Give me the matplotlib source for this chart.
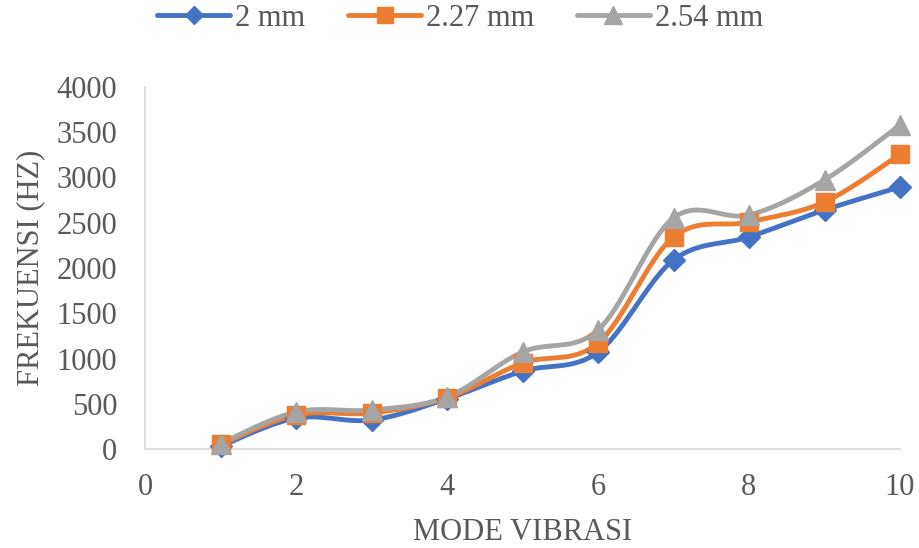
import numpy as np
import matplotlib
matplotlib.use("Agg")
import matplotlib.pyplot as plt
from matplotlib.lines import Line2D

modes = [1, 2, 3, 4, 5, 6, 7, 8, 9, 10]
freq_2mm = [30, 342, 320, 555, 860, 1070, 2088, 2343, 2641, 2895]
freq_227mm = [50, 376, 398, 565, 950, 1171, 2343, 2508, 2729, 3255]
freq_254mm = [60, 409, 431, 575, 1072, 1315, 2553, 2586, 2973, 3580]
labels = ["2 mm", "2.27 mm", "2.54 mm"]
colors = ["#4472C4", "#ED7D31", "#A5A5A5"]
markers = ["D", "s", "^"]
msizes = [11, 13, 15]


def smooth(x, y, n=30, t=1/6):
    """Cardinal-spline path through the points (Excel-like smoothed line)."""
    x = np.asarray(x, float)
    y = np.asarray(y, float)
    px = np.concatenate([[x[0]], x, [x[-1]]])
    py = np.concatenate([[y[0]], y, [y[-1]]])
    xs, ys = [], []
    for i in range(1, len(px) - 2):
        p0 = np.array([px[i], py[i]])
        p3 = np.array([px[i + 1], py[i + 1]])
        p1 = p0 + t * (np.array([px[i + 1], py[i + 1]]) - np.array([px[i - 1], py[i - 1]]))
        p2 = p3 - t * (np.array([px[i + 2], py[i + 2]]) - np.array([px[i], py[i]]))
        s = np.linspace(0, 1, n)[:, None]
        b = ((1 - s) ** 3) * p0 + 3 * ((1 - s) ** 2) * s * p1 + 3 * (1 - s) * s ** 2 * p2 + s ** 3 * p3
        xs.append(b[:, 0])
        ys.append(b[:, 1])
    return np.concatenate(xs), np.concatenate(ys)


plt.rcParams["font.family"] = ["Liberation Serif", "DejaVu Serif"]
text_color = "#595959"
fs = 22

fig = plt.figure(figsize=(9.19, 5.48), dpi=100)
ax = fig.add_axes([145 / 919, 1 - 449 / 548, (900 - 145) / 919, (449 - 87) / 548])

handles = []
for vals, lab, c, m, ms in zip([freq_2mm, freq_227mm, freq_254mm], labels, colors, markers, msizes):
    sx, sy = smooth(modes, vals)
    ax.plot(sx, sy, color=c, lw=3.5, solid_capstyle="round", zorder=2)
    ax.plot(modes, vals, ls="none", marker=m, ms=ms, color=c, zorder=3, clip_on=False)
    handles.append(Line2D([0], [0], color=c, lw=3.5, marker=m, ms=ms * 0.85,
                          solid_capstyle="round"))

ax.set_xlim(0, 10)
ax.set_ylim(0, 4000)
ax.set_xticks(range(0, 11, 2))
ax.set_yticks(range(0, 4001, 500))
ax.tick_params(axis="y", length=0, labelsize=fs, colors=text_color, pad=20)
ax.tick_params(axis="x", length=0, labelsize=fs, colors=text_color, pad=17)
for side in ["top", "right"]:
    ax.spines[side].set_visible(False)
for side in ["left", "bottom"]:
    ax.spines[side].set_color("#D9D9D9")
    ax.spines[side].set_linewidth(1.2)

ax.set_xlabel("MODE VIBRASI", fontsize=fs, color=text_color, labelpad=12)
ax.set_ylabel("FREKUENSI (HZ)", fontsize=fs, color=text_color, labelpad=8)

fig.legend(handles, labels, loc="center", bbox_to_anchor=(460 / 919, 1 - 18 / 548), ncol=3,
           frameon=False, fontsize=fs, labelcolor=text_color, handlelength=2.4,
           columnspacing=1.4, handletextpad=0.15)

fig.savefig("out.png", dpi=100)
